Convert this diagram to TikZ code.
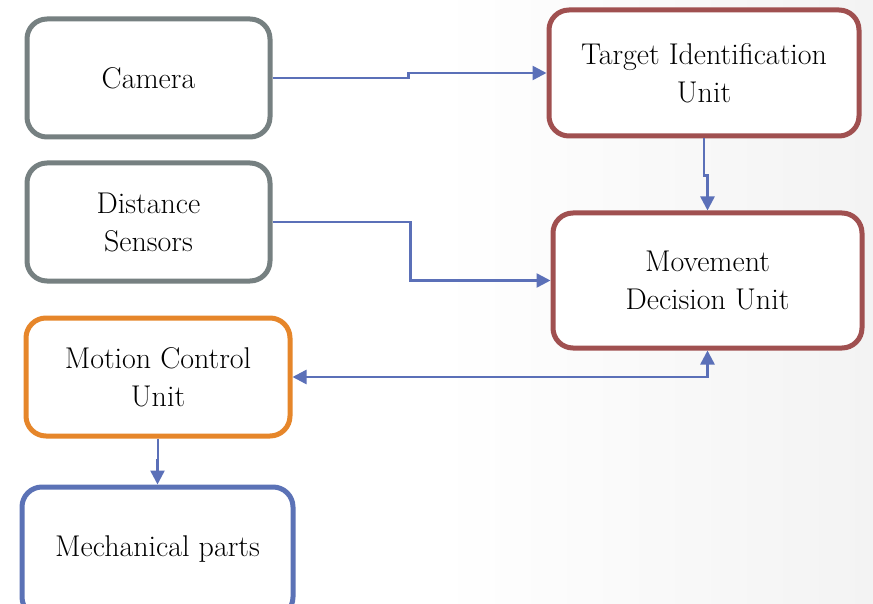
\documentclass[tikz,border=0pt]{standalone}
\usepackage{fontspec}
\usetikzlibrary{arrows.meta}
\definecolor{cgray}{RGB}{118,128,129}
\definecolor{cred}{RGB}{160,80,80}
\definecolor{corange}{RGB}{230,134,42}
\definecolor{cblue}{RGB}{91,114,182}
\definecolor{carrow}{RGB}{91,112,184}
\definecolor{bgr}{RGB}{243,243,243}
\tikzset{
  box/.style={draw, line width=5pt, rounded corners=20pt, fill=white, inner sep=0pt,
    align=center, font=\fontsize{30}{38}\selectfont},
  conn/.style={draw=carrow, line width=2.5pt, -{Triangle[length=14pt,width=14pt]}},
}
\begin{document}
\begin{tikzpicture}[x=1pt,y=-1pt]
\useasboundingbox (0,0) rectangle (873,604);
\fill[white] (0,0) rectangle (873,604);
\shade[left color=white, right color=bgr] (440,0) rectangle (873,604);
\node[box, draw=cgray, minimum width=243pt, minimum height=118pt] (cam) at (148.5,78) {Camera};
\node[box, draw=cgray, minimum width=243pt, minimum height=118pt] (ds) at (148.5,222) {Distance\\Sensors};
\node[box, draw=corange, minimum width=264pt, minimum height=118pt] (mcu) at (158,377) {Motion Control\\Unit};
\node[box, draw=cblue, minimum width=271pt, minimum height=130pt] (mech) at (157.5,552) {\raisebox{12pt}{Mechanical parts}};
\node[box, draw=cred, minimum width=310pt, minimum height=126pt] (tiu) at (704,73) {Target Identification\\Unit};
\node[box, draw=cred, minimum width=309pt, minimum height=135pt] (mdu) at (707.5,280.5) {Movement\\Decision Unit};
\draw[conn] (cam.east) -- ++(136,0) |- (tiu.west);
\draw[conn] (ds.east) -- ++(138,0) |- (mdu.west);
\draw[conn] (tiu.south) -- ++(0,37) -| (mdu.north);
\draw[conn, {Triangle[length=14pt,width=14pt]}-{Triangle[length=14pt,width=14pt]}] (mdu.south) |- (mcu.east);
\draw[conn] (mcu.south) -- ++(0,22) -| (mech.north);
\end{tikzpicture}
\end{document}
